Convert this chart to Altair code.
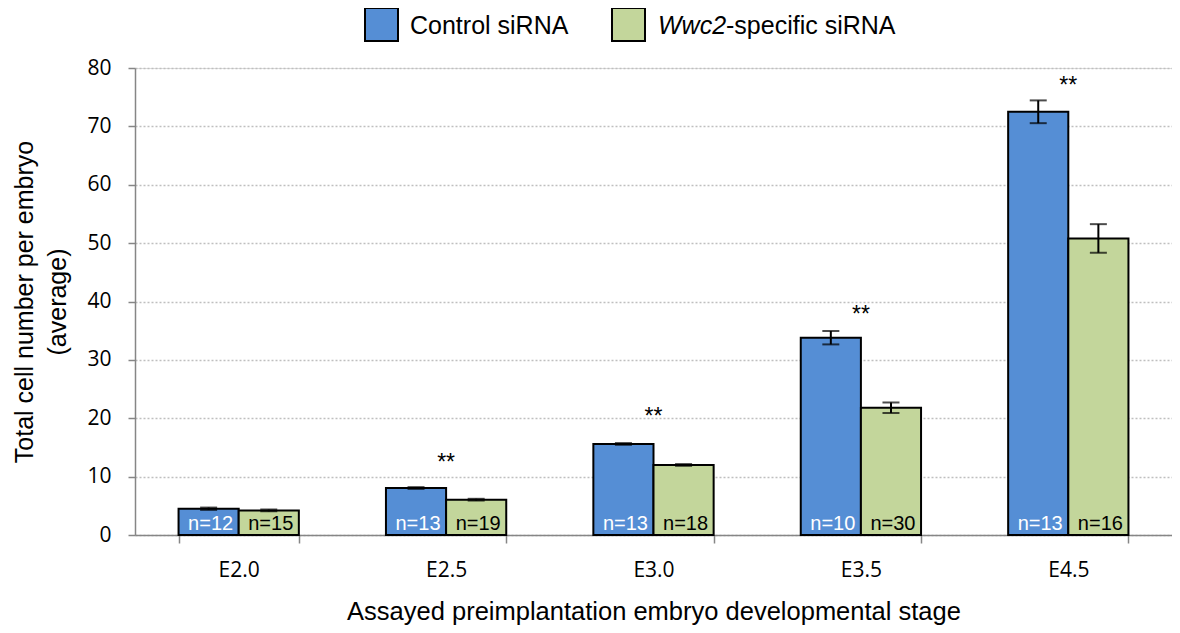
import altair as alt
import pandas as pd

stages = ["E2.0", "E2.5", "E3.0", "E3.5", "E4.5"]
groups = ["Control siRNA", "Wwc2-specific siRNA"]
control_mean = [4.5, 8.05, 15.6, 33.8, 72.5]
wwc2_mean = [4.2, 6.05, 12.0, 21.8, 50.8]
control_err = [0.2, 0.15, 0.15, 1.15, 1.95]
wwc2_err = [0.15, 0.15, 0.15, 0.9, 2.45]
control_n = [12, 13, 13, 10, 13]
wwc2_n = [15, 19, 18, 30, 16]
sig_stages = ["E2.5", "E3.0", "E3.5", "E4.5"]
sig_y = [13.2, 21.0, 38.5, 77.7]
sig_text = ["**", "**", "**", "**"]
fill_colors = ["#558ED5", "#C3D69B"]
n_text_colors = ["white", "black"]

rows = []
for i, s in enumerate(stages):
    for g, m, e, n, tc in [
        (groups[0], control_mean[i], control_err[i], control_n[i], n_text_colors[0]),
        (groups[1], wwc2_mean[i], wwc2_err[i], wwc2_n[i], n_text_colors[1]),
    ]:
        rows.append({"stage": s, "group": g, "mean": m, "lo": m - e, "hi": m + e,
                     "nlabel": f"n={n}", "tcolor": tc})
df = pd.DataFrame(rows)
df_sig = pd.DataFrame({"stage": sig_stages, "y": sig_y, "t": sig_text})

FONT = "Liberation Sans"
TICKFONT = "Open Sans"
GRAY = "#868686"

x = alt.X("stage:N", sort=stages,
          scale=alt.Scale(paddingInner=0.42, paddingOuter=0.21),
          axis=alt.Axis(title="Assayed preimplantation embryo developmental stage",
                        labelAngle=0, tickBand="extent", grid=False,
                        domainColor=GRAY, tickColor=GRAY, tickSize=8, domainWidth=1.5, tickWidth=1.5,
                        labelFont=TICKFONT, labelFontSize=21, labelColor="black", labelPadding=16,
                        titleFont=FONT, titleFontSize=25.5, titleFontWeight="normal",
                        titleColor="black", titlePadding=19))
xo = alt.XOffset("group:N", sort=groups, scale=alt.Scale(paddingInner=0, paddingOuter=0))
y = alt.Y("mean:Q", scale=alt.Scale(domain=[0, 80], nice=False),
          axis=alt.Axis(title=["Total cell number per embryo", "(average)"],
                        values=list(range(0, 81, 10)), grid=True, gridColor="#BFBFBF",
                        gridDash=[2, 2], gridWidth=1.3,
                        domainColor=GRAY, tickColor=GRAY, tickSize=7, domainWidth=1.5, tickWidth=1.5,
                        labelFont=TICKFONT, labelFontSize=21, labelColor="black", labelPadding=17,
                        titleFont=FONT, titleFontSize=25, titleFontWeight="normal",
                        titleColor="black", titlePadding=16, titleLineHeight=33))

base = alt.Chart(df)
bars = base.mark_bar(stroke="black", strokeWidth=2).encode(
    x=x, xOffset=xo, y=y,
    fill=alt.Fill("group:N", scale=alt.Scale(domain=groups, range=fill_colors), legend=None))
rule = base.mark_rule(color="black", strokeWidth=2).encode(x=x, xOffset=xo, y="lo:Q", y2="hi:Q")
cap_lo = base.mark_tick(color="black", thickness=2, size=17).encode(x=x, xOffset=xo, y="lo:Q")
cap_hi = base.mark_tick(color="black", thickness=2, size=17).encode(x=x, xOffset=xo, y="hi:Q")
ntext = base.mark_text(font=FONT, fontSize=20, baseline="alphabetic", dy=-5, dx=2).encode(
    x=x, xOffset=xo, y=alt.datum(0), text="nlabel:N",
    color=alt.Color("tcolor:N", scale=None))
stars = alt.Chart(df_sig).mark_text(font=FONT, fontSize=23, baseline="alphabetic", dy=12).encode(
    x=x, y="y:Q", text="t:N")

# manual legend (mixed italic label)
leg_df1 = pd.DataFrame({"label": [groups[0]]})
leg_df2 = pd.DataFrame({"a": ["Wwc2"], "b": ["-specific siRNA"]})
sq1 = alt.Chart(leg_df1).mark_rect(fill=fill_colors[0], stroke="black", strokeWidth=2).encode(
    x=alt.value(230), x2=alt.value(263), y=alt.value(-60), y2=alt.value(-27))
tx1 = alt.Chart(leg_df1).mark_text(font=FONT, fontSize=25, align="left", baseline="middle").encode(
    x=alt.value(275), y=alt.value(-42), text="label:N")
sq2 = alt.Chart(leg_df2).mark_rect(fill=fill_colors[1], stroke="black", strokeWidth=2).encode(
    x=alt.value(477), x2=alt.value(510), y=alt.value(-60), y2=alt.value(-27))
tx2a = alt.Chart(leg_df2).mark_text(font=FONT, fontSize=25, fontStyle="italic", align="left",
                                    baseline="middle").encode(
    x=alt.value(523), y=alt.value(-42), text="a:N")
tx2b = alt.Chart(leg_df2).mark_text(font=FONT, fontSize=25, align="left", baseline="middle").encode(
    x=alt.value(591), y=alt.value(-42), text="b:N")

chart = alt.layer(bars, rule, cap_lo, cap_hi, ntext, stars, sq1, tx1, sq2, tx2a, tx2b).properties(
    width=1037, height=467,
    autosize=alt.AutoSizeParams(type="none"),
    padding={"left": 127, "top": 60, "right": 0, "bottom": 90},
).configure_view(stroke=None).configure(background="white")

chart.save("out.html", embed_options={"renderer": "svg", "actions": False})
